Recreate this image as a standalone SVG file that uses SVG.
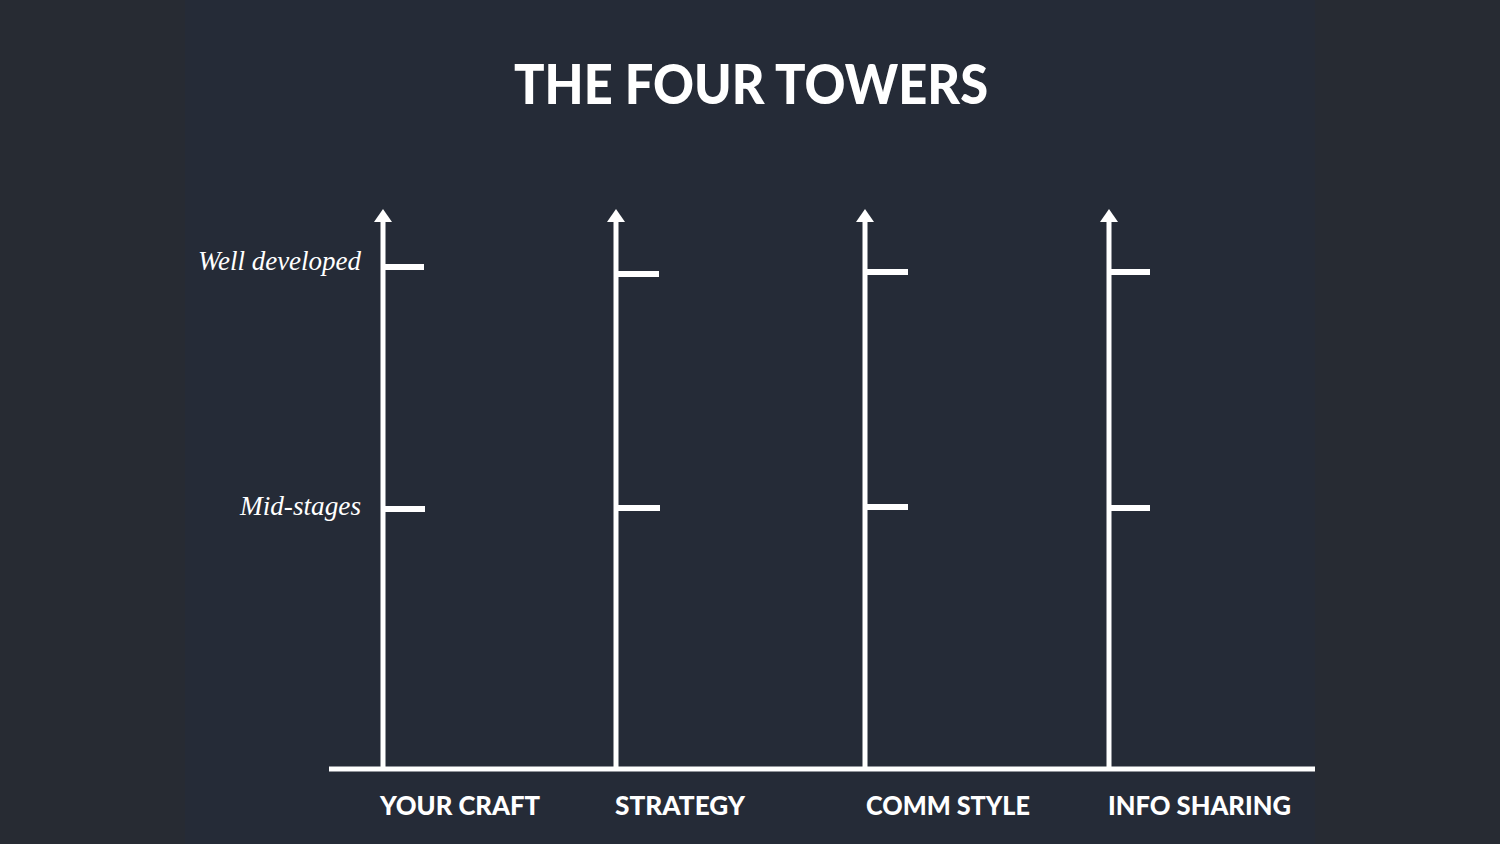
<svg xmlns="http://www.w3.org/2000/svg" width="1500" height="844" viewBox="0 0 1500 844">
<style>
.ax{stroke:#ffffff;stroke-width:5;fill:none}
.tk{stroke:#ffffff;stroke-width:6;fill:none}
.hd{fill:#ffffff}
.lbl{font-family:"Lato","Open Sans",sans-serif;font-weight:900;font-size:27px;fill:#ffffff}
.lvl{font-family:"Liberation Serif",serif;font-style:italic;font-size:28px;fill:#ffffff}
.ttl{font-family:"Lato","Open Sans",sans-serif;font-weight:900;font-size:56px;fill:#ffffff}
</style>
<rect x="0" y="0" width="1500" height="844" fill="#272b33"/>
<rect x="185" y="0" width="1130" height="844" fill="#252b37"/>
<text class="ttl" x="751" y="104" text-anchor="middle" textLength="474" lengthAdjust="spacingAndGlyphs">THE FOUR TOWERS</text>
<g id="connectors">
<line class="ax" x1="329" y1="769" x2="1315" y2="769"/>
</g>
<g id="tower1">
<line class="ax" x1="383" y1="218" x2="383" y2="769"/>
<polygon class="hd" points="383,209 392,222 374,222"/>
<line class="tk" x1="383" y1="267" x2="424" y2="267"/>
<line class="tk" x1="383" y1="509" x2="425" y2="509"/>
<text class="lbl" x="380" y="815" textLength="160" lengthAdjust="spacingAndGlyphs">YOUR CRAFT</text>
</g>
<g id="tower2">
<line class="ax" x1="616" y1="218" x2="616" y2="769"/>
<polygon class="hd" points="616,209 625,222 607,222"/>
<line class="tk" x1="616" y1="274" x2="659" y2="274"/>
<line class="tk" x1="616" y1="508" x2="660" y2="508"/>
<text class="lbl" x="615" y="815" textLength="130" lengthAdjust="spacingAndGlyphs">STRATEGY</text>
</g>
<g id="tower3">
<line class="ax" x1="865" y1="218" x2="865" y2="769"/>
<polygon class="hd" points="865,209 874,222 856,222"/>
<line class="tk" x1="865" y1="272" x2="908" y2="272"/>
<line class="tk" x1="865" y1="507" x2="908" y2="507"/>
<text class="lbl" x="866" y="815" textLength="164" lengthAdjust="spacingAndGlyphs">COMM STYLE</text>
</g>
<g id="tower4">
<line class="ax" x1="1109" y1="218" x2="1109" y2="769"/>
<polygon class="hd" points="1109,209 1118,222 1100,222"/>
<line class="tk" x1="1109" y1="272" x2="1150" y2="272"/>
<line class="tk" x1="1109" y1="508" x2="1150" y2="508"/>
<text class="lbl" x="1108" y="815" textLength="183" lengthAdjust="spacingAndGlyphs">INFO SHARING</text>
</g>
<g id="levels">
<text class="lvl" x="361" y="270" text-anchor="end" textLength="163" lengthAdjust="spacingAndGlyphs">Well developed</text>
<text class="lvl" x="361" y="515" text-anchor="end" textLength="121" lengthAdjust="spacingAndGlyphs">Mid-stages</text>
</g>
</svg>
